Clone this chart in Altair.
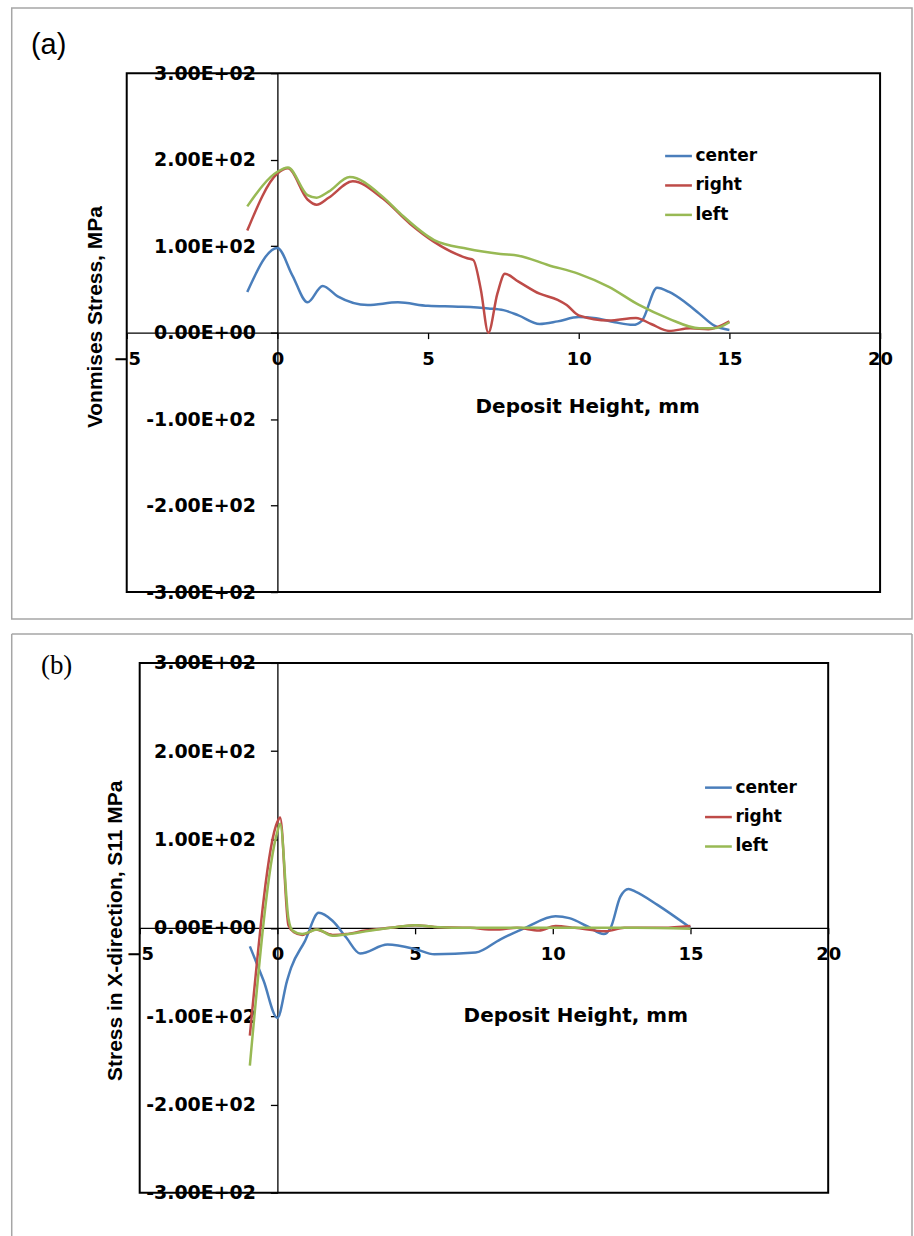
import altair as alt
import pandas as pd

SERIES = ["center", "right", "left"]
COLORS = ["#4A7EBB", "#BE4B48", "#98B954"]

X_TICKS = [-5, 0, 5, 10, 15, 20]
Y_TICKS = [-300, -200, -100, 0, 100, 200, 300]

# (a) von Mises stress along the deposit height
a_center_x = [-1, 0, 0.5, 1, 1.5, 2, 3, 4, 5, 6, 7, 7.5, 8, 8.7, 9.3, 10, 10.5, 11.2, 11.8, 12.1, 12.6, 13, 13.5, 14, 14.5, 15]
a_center_y = [47, 98, 66, 35, 54, 42, 32, 35, 31, 30, 28, 26, 20, 10, 13, 18, 17, 12, 9, 14, 52, 47, 36, 22, 8, 3]
a_right_x = [-1, 0, 0.35, 1, 1.3, 1.7, 2.5, 3.5, 4.4, 5.2, 6.3, 6.5, 6.75, 7.0, 7.3, 7.55, 8, 8.7, 9.3, 9.6, 10, 11, 11.9, 12.4, 13, 13.7, 14.3, 15]
a_right_y = [118, 184, 190, 154, 148, 156, 175, 155, 126, 105, 86, 84, 50, 0, 45, 68, 59, 45, 38, 32, 20, 14, 17, 10, 2, 5, 4, 13]
a_left_x = [-1, 0, 0.35, 1, 1.3, 1.7, 2.4, 3.5, 4.1, 5.2, 6.3, 7.4, 8, 9, 10, 11, 12, 13, 14, 14.5, 15]
a_left_y = [146, 186, 191, 159, 156, 163, 180, 157, 137, 107, 97, 91, 89, 78, 68, 53, 32, 16, 5, 5, 12]

# (b) S11 stress along the deposit height
b_center_x = [-1, -0.5, 0, 0.35, 0.5, 1, 1.5, 2, 2.5, 3, 4, 5, 5.7, 7.2, 8.1, 9, 10.1, 10.6, 11.3, 11.85, 12.1, 12.45, 12.75, 13, 13.8, 15]
b_center_y = [-21, -60, -102, -60, -45, -15, 17, 8, -11, -29, -19, -24, -30, -28, -13, 0, 13, 11, 1, -7, 0, 35, 44, 41, 26, 0]
b_right_x = [-1, 0, 0.1, 0.4, 0.6, 0.9, 1.4, 2, 2.5, 3.2, 4.1, 5, 5.7, 7, 7.9, 8.7, 9.5, 10.1, 10.8, 11.9, 12.6, 14, 15]
b_right_y = [-122, 120, 125, 3, -5, -8, -2, -8, -7, -3, 0, 3, 1, 0, -2, 0, -3, 2, 0, -4, 0, 0, 2]
b_left_x = [-1, 0, 0.1, 0.4, 0.55, 0.9, 1.45, 2, 2.6, 3.2, 4.1, 5, 5.7, 7, 9, 11, 13, 15]
b_left_y = [-156, 109, 118, 11, -3, -7, -2, -9, -7, -4, 0, 3, 1, 0, 0, 0, 0, -1]

BOLD = "DejaVu Sans"
ARIAL = "Liberation Sans, Arial, Helvetica, sans-serif"
TIMES = "Liberation Serif, Times New Roman, serif"


def long_table(pairs):
    rows = []
    for name, xs, ys in pairs:
        rows += [{"series": name, "x": x, "y": y} for x, y in zip(xs, ys)]
    return pd.DataFrame(rows)


def y_label_expr():
    return ("datum.value == 0 ? '0.00E+00' : "
            "(datum.value < 0 ? '-' : '') + format(abs(datum.value) / 100, '.2f') + 'E+02'")


def panel(df, width, height, x_range, x_off, y_off, x_title, x_title_pos,
          y_title, y_title_pos, legend_pos, tag, tag_font, tag_size, tag_pos):
    one = alt.Data(values=[{"k": 1}])
    x_axis = alt.Axis(
        values=X_TICKS, format="d", grid=False, offset=x_off,
        domainColor="black", domainWidth=1.3, tickColor="black", tickSize=6, tickWidth=1.3,
        labelFont=BOLD, labelFontWeight="bold", labelFontSize=18, labelColor="black",
        labelPadding=12, labelFlush=False, labelOverlap=False, labelBound=False,
        title=x_title, titleFont=BOLD, titleFontWeight="bold", titleFontSize=20,
        titleColor="black", titleX=x_title_pos[0], titleY=x_title_pos[1],
        titleBaseline="middle", titleAlign="center", titleAngle=0,
    )
    y_axis = alt.Axis(
        values=Y_TICKS, labelExpr=y_label_expr(), grid=False, offset=y_off,
        domainColor="black", domainWidth=1.3, tickColor="black", tickSize=7, tickWidth=1.3,
        labelFont=BOLD, labelFontWeight="bold", labelFontSize=19, labelColor="black",
        labelPadding=15, labelFlush=False, labelOverlap=False, labelBound=False,
        labelBaseline="middle",
        title=y_title, titleFont=ARIAL, titleFontWeight="bold", titleFontSize=21,
        titleColor="black", titleX=y_title_pos[0], titleY=y_title_pos[1],
        titleBaseline="middle", titleAlign="center", titleAngle=270,
    )
    x_scale = alt.Scale(domain=[-5, 20], nice=False, zero=False, range=x_range)
    y_scale = alt.Scale(domain=[-300, 300], nice=False, zero=False)

    lines = alt.Chart(df).mark_line(interpolate="monotone", strokeWidth=2.5).encode(
        x=alt.X("x:Q", scale=x_scale, axis=x_axis),
        y=alt.Y("y:Q", scale=y_scale, axis=y_axis),
        color=alt.Color(
            "series:N", sort=SERIES,
            scale=alt.Scale(domain=SERIES, range=COLORS),
            legend=alt.Legend(
                title=None, orient="none", legendX=legend_pos[0], legendY=legend_pos[1],
                direction="vertical", symbolType="stroke", symbolStrokeWidth=2.5,
                symbolSize=720, rowPadding=6.5, labelOffset=2, padding=0,
                labelFont=BOLD, labelFontWeight="bold", labelFontSize=17,
                labelColor="black",
            ),
        ),
    )

    frame = alt.Chart(one).mark_rect(fill="transparent", stroke="black", strokeWidth=2).encode(
        x=alt.value(x_range[0]), x2=alt.value(x_range[1]),
        y=alt.value(0), y2=alt.value(height),
    )
    label = alt.Chart(one).mark_text(
        font=tag_font, fontSize=tag_size, align="left", baseline="middle", color="black"
    ).encode(x=alt.value(tag_pos[0]), y=alt.value(tag_pos[1]), text=alt.value(tag))

    return alt.layer(frame, lines, label).properties(width=width, height=height)


df_a = long_table([("center", a_center_x, a_center_y),
                   ("right", a_right_x, a_right_y),
                   ("left", a_left_x, a_left_y)])
df_b = long_table([("center", b_center_x, b_center_y),
                   ("right", b_right_x, b_right_y),
                   ("left", b_left_x, b_left_y)])

one = alt.Data(values=[{"k": 1}])
BOX = "#A6A6A6"

panel_a = panel(df_a, 755, 520, [0, 755], -260, -151,
                "Deposit Height, mm", (461.5, 74),
                "Vonmises Stress, MPa", (-182, 244),
                (538, 68), "(a)", ARIAL, 29, (-96, -28))
box_a = alt.Chart(one).mark_rect(fill="transparent", stroke=BOX, strokeWidth=1.5).encode(
    x=alt.value(-115.25), x2=alt.value(787), y=alt.value(-65.25), y2=alt.value(547)
)
panel_a = alt.layer(box_a, panel_a)

panel_b = panel(df_b, 703, 531, [13, 703], -265.5, -151,
                "Deposit Height, mm", (449.5, 88),
                "Stress in X-direction, S11 MPa", (-162, 268),
                (578, 110), "(b)", TIMES, 27, (-86, 3))
box_b_left = alt.Chart(one).mark_rule(stroke=BOX, strokeWidth=1.5).encode(
    x=alt.value(-115.25), y=alt.value(-29), y2=alt.value(580))
box_b_top = alt.Chart(one).mark_rule(stroke=BOX, strokeWidth=1.5).encode(
    x=alt.value(-115.25), x2=alt.value(787), y=alt.value(-29))
box_b_right = alt.Chart(one).mark_rule(stroke=BOX, strokeWidth=1.5).encode(
    x=alt.value(787), y=alt.value(-29), y2=alt.value(580))
panel_b = alt.layer(box_b_left, box_b_top, box_b_right, panel_b)

chart = alt.vconcat(panel_a, panel_b, spacing=71, bounds="flush").resolve_scale(
    color="independent"
).resolve_legend(color="independent").properties(
    padding={"left": 10, "top": 5, "right": 0, "bottom": 0},
    background="white",
).configure_view(stroke="transparent")

chart.save("out.html", embed_options={"renderer": "svg", "actions": False})
